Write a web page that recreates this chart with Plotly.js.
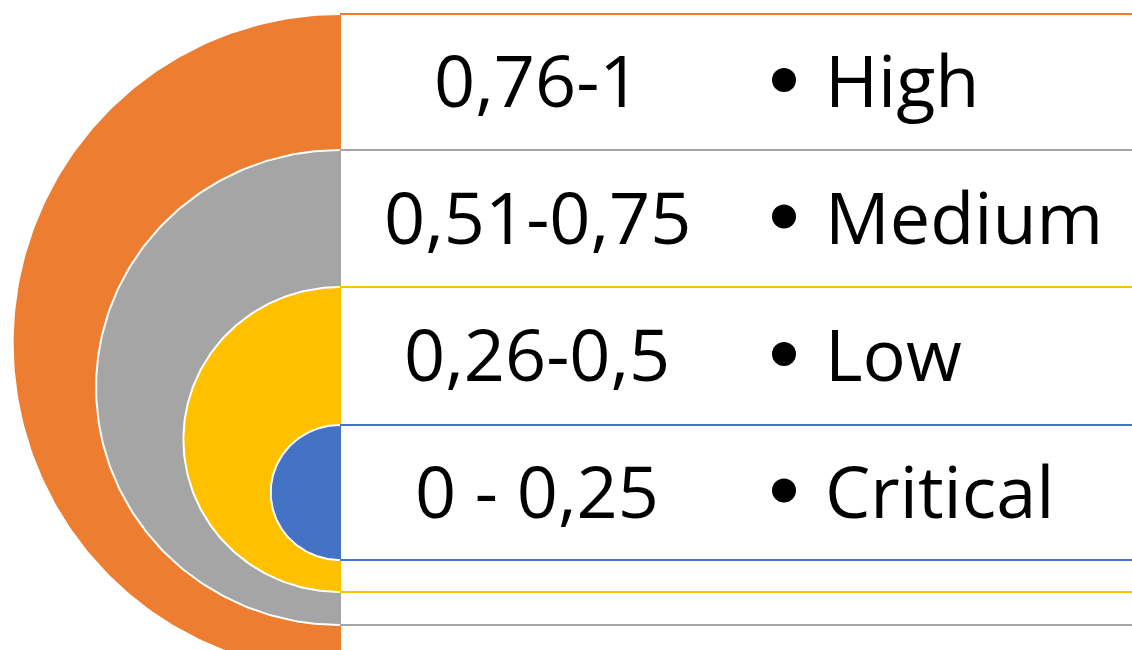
<!DOCTYPE html>
<html>
<head>
<meta charset="utf-8">
<script src="https://cdn.plot.ly/plotly-3.0.1.min.js"></script>
<style>html,body{margin:0;padding:0;background:#fff;}#chart{width:1132px;height:650px;}</style>
</head>
<body>
<div id="chart"></div>
<script>
// ---- data ----
const ranges = ['0,76-1', '0,51-0,75', '0,26-0,5', '0 - 0,25'];
const levels = ['High', 'Medium', 'Low', 'Critical'];
const colors = ['#ED7D31', '#A5A5A5', '#FFC000', '#4472C4'];

// ---- layout geometry (pixel space) ----
const W = 1132, H = 650;
const cx = 340;                       // centre line of the half discs
const tops = [14, 150, 287, 425];     // top of each ring / box
const bottoms = [672, 625, 592, 560]; // bottom of each ring / box
const stretchX = [0.995, 1.027, 1.027, 1.027]; // horizontal stretch of each half disc
const rangeX = 537, bulletX = 784, labelX = 823;

const traces = [];
const shapes = [];
const annotations = [];

for (let i = 0; i < levels.length; i++) {
  const r = (bottoms[i] - tops[i]) / 2;
  const cy = tops[i] + r;
  const xs = [], ys = [];
  for (let k = 0; k <= 180; k++) {
    const a = Math.PI / 2 + Math.PI * k / 180;
    xs.push(cx + r * stretchX[i] * Math.cos(a));
    ys.push(cy - r * Math.sin(a));
  }
  traces.push({
    type: 'scatter', mode: 'lines', x: xs, y: ys, fill: 'toself',
    fillcolor: colors[i], line: {color: '#ffffff', width: 2},
    hoverinfo: 'skip', showlegend: false
  });
  shapes.push({
    type: 'rect', xref: 'x', yref: 'y', x0: cx, x1: W + 20, y0: tops[i], y1: bottoms[i],
    fillcolor: '#ffffff', line: {color: colors[i], width: 2}, layer: 'below'
  });
}

// text rows sit in the band between this box's top and the next box's top
const rowMid = [];
for (let i = 0; i < levels.length; i++) {
  const nextTop = i + 1 < tops.length ? tops[i + 1] : bottoms[i];
  rowMid.push((tops[i] + nextTop) / 2 - 3);
}

for (let i = 0; i < levels.length; i++) {
  annotations.push({
    x: rangeX, y: rowMid[i], xref: 'x', yref: 'y', text: ranges[i], showarrow: false,
    xanchor: 'center', yanchor: 'middle',
    font: {family: 'Open Sans, sans-serif', size: 72, color: '#000'}
  });
  annotations.push({
    x: labelX, y: rowMid[i], xref: 'x', yref: 'y', text: levels[i], showarrow: false,
    xanchor: 'left', yanchor: 'middle',
    font: {family: 'Open Sans, sans-serif', size: 72, color: '#000'}
  });
}

traces.push({
  type: 'scatter', mode: 'markers',
  x: levels.map(() => bulletX), y: rowMid.map(v => v + 1),
  marker: {color: '#000', size: 24, symbol: 'circle'},
  hoverinfo: 'skip', showlegend: false
});

const layout = {
  width: W, height: H,
  margin: {l: 0, r: 0, t: 0, b: 0},
  paper_bgcolor: '#ffffff', plot_bgcolor: '#ffffff',
  xaxis: {range: [0, W], visible: false, fixedrange: true},
  yaxis: {range: [H, 0], visible: false, fixedrange: true},
  shapes: shapes,
  annotations: annotations,
  showlegend: false
};

Plotly.newPlot('chart', traces, layout, {displayModeBar: false, staticPlot: true});
</script>
</body>
</html>
